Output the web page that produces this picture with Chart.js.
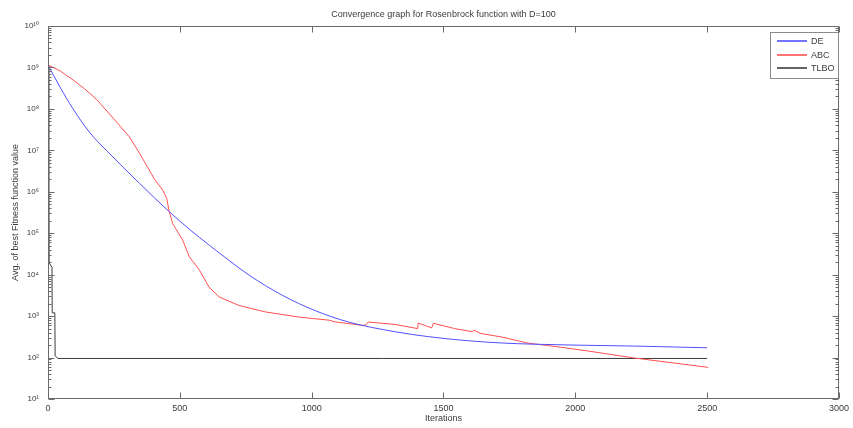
<!DOCTYPE html>
<html>
<head>
<meta charset="utf-8">
<script src="https://cdn.jsdelivr.net/npm/chart.js@4/dist/chart.umd.min.js"></script>
<style>
  html, body { margin: 0; padding: 0; background: #fff; }
  #wrap { width: 853px; height: 428px; position: relative; }
</style>
</head>
<body>
<div id="wrap"><canvas id="c"></canvas></div>
<script>
// ---- data ----
const chartTitle = 'Convergence graph for Rosenbrock function with D=100';
const xTitle = 'Iterations';
const yTitle = 'Avg. of best Fitness function value';
const xTicks = [0, 500, 1000, 1500, 2000, 2500, 3000];
const yTickExponents = [1, 2, 3, 4, 5, 6, 7, 8, 9, 10];

const seriesNames = ['DE', 'ABC', 'TLBO'];

const deIter = [0, 45, 95, 158, 221, 347, 460, 536, 687, 762, 888, 1014, 1140, 1316, 1442, 1592, 1718, 1844, 1995, 2250, 2500];
const deVal  = [1.15e9, 3.4e8, 1.0e8, 2.7e7, 1.0e7, 1.6e6, 3.3e5, 1.25e5, 2.2e4, 9.8e3, 3.2e3, 1.35e3, 720, 420, 320, 255, 225, 210, 200, 188, 172];

const abcIter = [0, 45, 95, 140, 184, 247, 309, 347, 379, 404, 435, 450, 460, 473, 511, 536, 574, 611, 649, 725, 825, 951, 1064, 1089, 1190, 1205, 1215, 1316, 1402, 1404, 1455, 1462, 1542, 1610, 1615, 1642, 1718, 1819, 1944, 2045, 2221, 2504];
const abcVal  = [1.15e9, 8.3e8, 5.0e8, 3.0e8, 1.7e8, 6.0e7, 2.1e7, 8.5e6, 3.8e6, 2.0e6, 1.1e6, 7.0e5, 3.3e5, 1.7e5, 6.8e4, 2.7e4, 1.3e4, 5.0e3, 2.9e3, 1.8e3, 1.26e3, 950, 800, 725, 600, 610, 720, 630, 500, 680, 520, 670, 500, 420, 460, 380, 316, 224, 178, 145, 98, 58];

const tlboIter = [0, 3, 15, 16, 26, 27, 38, 2500];
const tlboVal  = [1.15e9, 2.0e4, 1.5e4, 1.2e3, 1.2e3, 110, 95, 95];

const seriesColors = ['rgb(80,80,255)', 'rgb(255,80,80)', 'rgb(60,60,60)'];

// ---- helpers ----
const SUP = {'0':'⁰','1':'¹','2':'²','3':'³','4':'⁴','5':'⁵','6':'⁶','7':'⁷','8':'⁸','9':'⁹'};
const sup = n => String(n).split('').map(c => SUP[c]).join('');
const pts = (xs, ys) => xs.map((x, i) => ({x, y: ys[i]}));
const AXIS = '#6a6a6a';
const TEXT = '#3a3a3a';
const FONT = '"Liberation Sans", Arial, sans-serif';

const boxPlugin = {
  id: 'boxPlugin',
  afterDraw(chart) {
    const {ctx, chartArea: a, scales: {x, y}} = chart;
    ctx.save();
    ctx.strokeStyle = AXIS;
    ctx.lineWidth = 1;
    const L = Math.round(a.left) + 0.5, R = Math.round(a.right) - 0.5;
    const T = Math.round(a.top) + 0.5, B = Math.round(a.bottom) - 0.5;
    ctx.strokeRect(L, T, R - L, B - T);
    ctx.beginPath();
    x.ticks.forEach(t => {
      const px = Math.round(x.getPixelForValue(t.value)) + 0.5;
      ctx.moveTo(px, B); ctx.lineTo(px, B - 6);
      ctx.moveTo(px, T); ctx.lineTo(px, T + 6);
    });
    yTickExponents.forEach(e => {
      for (let m = 1; m <= 9; m++) {
        const v = m * Math.pow(10, e);
        if (v > y.max * 1.0001) break;
        const py = Math.round(y.getPixelForValue(v)) + 0.5;
        const len = m === 1 ? 6 : 3;
        ctx.moveTo(L, py); ctx.lineTo(L + len, py);
        ctx.moveTo(R, py); ctx.lineTo(R - len, py);
      }
    });
    ctx.stroke();

    // legend box
    const lx = 770, ly = 32, lw = 68, lh = 46;
    ctx.fillStyle = '#fff';
    ctx.fillRect(lx, ly, lw, lh);
    ctx.strokeStyle = '#8a8a8a';
    ctx.strokeRect(lx + 0.5, ly + 0.5, lw, lh);
    ctx.font = '9px ' + FONT;
    ctx.textBaseline = 'middle';
    ctx.textAlign = 'left';
    const rows = [41, 55, 68];
    chart.data.datasets.forEach((ds, i) => {
      ctx.beginPath();
      ctx.strokeStyle = seriesColors[i];
      ctx.lineWidth = 1.6;
      ctx.moveTo(777, rows[i]); ctx.lineTo(807, rows[i]);
      ctx.stroke();
      ctx.fillStyle = TEXT;
      ctx.fillText(ds.label, 811, rows[i] + 0.5);
    });
    ctx.restore();
  }
};

new Chart(document.getElementById('c'), {
  type: 'line',
  data: {
    datasets: [
      { label: seriesNames[0], data: pts(deIter, deVal), borderColor: seriesColors[0], cubicInterpolationMode: 'monotone' },
      { label: seriesNames[1], data: pts(abcIter, abcVal), borderColor: seriesColors[1], tension: 0 },
      { label: seriesNames[2], data: pts(tlboIter, tlboVal), borderColor: seriesColors[2], tension: 0 }
    ]
  },
  options: {
    responsive: true,
    maintainAspectRatio: false,
    animation: false,
    devicePixelRatio: 1,
    layout: { padding: { left: 0, right: 10, top: 0, bottom: 0 } },
    elements: { point: { radius: 0 }, line: { borderWidth: 1, fill: false } },
    plugins: {
      legend: { display: false },
      tooltip: { enabled: false },
      title: {
        display: true, text: chartTitle, fullSize: false, color: TEXT,
        font: { family: FONT, size: 9, weight: 'normal', lineHeight: '10px' },
        padding: { top: 10, bottom: 6 }
      }
    },
    scales: {
      x: {
        type: 'linear', min: 0, max: 3000,
        afterBuildTicks: s => { s.ticks = xTicks.map(v => ({value: v})); },
        ticks: { color: TEXT, font: { family: FONT, size: 9 }, padding: 4, maxRotation: 0, autoSkip: false,
                 callback: v => String(v) },
        grid: { display: false, drawTicks: false },
        border: { display: false },
        title: { display: true, text: xTitle, color: TEXT, font: { family: FONT, size: 9 }, padding: { top: 0, bottom: 4 } },
        afterFit: s => { s.height = 29; }
      },
      y: {
        type: 'logarithmic', min: 10, max: 1e10,
        afterBuildTicks: s => { s.ticks = yTickExponents.map(e => ({value: Math.pow(10, e)})); },
        ticks: {
          color: TEXT, font: { family: FONT, size: 8 }, padding: 9, autoSkip: false,
          callback: v => '10' + sup(Math.round(Math.log10(v)))
        },
        grid: { display: false, drawTicks: false },
        border: { display: false },
        title: { display: true, text: yTitle, color: TEXT, font: { family: FONT, size: 9 }, padding: { top: 10, bottom: 0 } },
        afterFit: s => { s.width = 48; }
      }
    }
  },
  plugins: [boxPlugin]
});
</script>
</body>
</html>
